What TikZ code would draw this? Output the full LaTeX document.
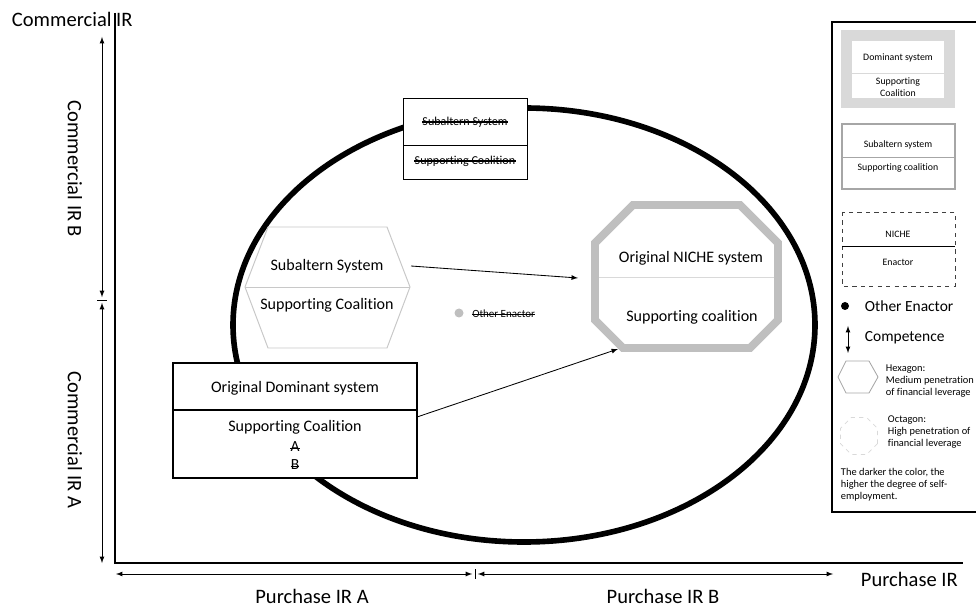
\documentclass[tikz,border=0pt]{standalone}
\usepackage{fontspec}
\setmainfont[Ligatures = NoCommon]{Carlito}
\usetikzlibrary{arrows}
\definecolor{octgray}{HTML}{BFBFBF}
\definecolor{hexgray}{HTML}{C8C8C8}
\definecolor{domgray}{HTML}{D9D9D9}
\definecolor{subgray}{HTML}{A6A6A6}
\definecolor{nichegray}{HTML}{404040}
\tikzset{>=latex}
\tikzset{
	axislabel/.style = {font = \fontsize{14.6}{17}\selectfont},
	boxtext/.style = {font = \fontsize{11.4}{13.5}\selectfont},
	legtext/.style = {font = \fontsize{7}{8.3}\selectfont, align = center},
	notetext/.style = {font = \fontsize{7.4}{8.6}\selectfont, align = left, anchor = north west},
	strucktext/.style = {font = \fontsize{7.8}{9}\selectfont, inner xsep = 0pt,
		append after command = {(\tikzlastnode.mid west) edge[line width = 1pt] (\tikzlastnode.mid east)}},
}

\begin{document}
\begin{tikzpicture}[x = 0.025cm, y = -0.025cm]
\useasboundingbox (0,0) rectangle (976,610);

% axes
\draw[line width = 1.1pt] (115,13) -- (115,563) -- (963,563);
\node[axislabel, anchor = west] (yname) at (7,19) {Commercial IR};
\node[axislabel, anchor = west] (xname) at (856,579) {Purchase IR};

\coordinate (ytop) at (102,37);
\coordinate (ymid) at (102,300);
\coordinate (ybot) at (102,563);
\coordinate (xleft) at (116,574);
\coordinate (xmid) at (475,574);
\coordinate (xright) at (833,574);
\draw[<->, line width = 0.6pt] (ytop) -- ([yshift = 2]ymid);
\draw[<->, line width = 0.6pt] ([yshift = -2]ymid) -- (ybot);
\draw[<->, line width = 0.6pt] (xleft) -- ([xshift = -2]xmid);
\draw[<->, line width = 0.6pt] ([xshift = 2]xmid) -- (xright);
\draw[line width = 0.5pt] (97,300) -- (107,300);
\draw[line width = 0.5pt] (475,569) -- (475,579);

\node[axislabel, rotate = -90] (irB) at (75,169) {Commercial IR B};
\node[axislabel, rotate = -90] (irA) at (75,440) {Commercial IR A};
\node[axislabel] (prA) at (312,596) {Purchase IR A};
\node[axislabel] (prB) at (663,596) {Purchase IR B};

% market
\draw[line width = 4pt] (524,325) ellipse [x radius = 291, y radius = 217];

% struck subaltern system
\draw[fill = white, line width = 0.6pt] (403,98) rectangle (527,179);
\draw[line width = 0.6pt] (403,145) -- (527,145);
\node[strucktext, font = \fontsize{8.6}{10}\selectfont] (oldsys) at (465,122) {Subaltern System};
\node[strucktext, font = \fontsize{8.6}{10}\selectfont] (oldcoal) at (465,161) {Supporting Coalition};

% subaltern hexagon
\draw[hexgray, fill = white, line width = 0.7pt]
	(268,227) -- (387,227) -- (410,287) -- (387,348) -- (268,348) -- (245,287) -- cycle;
\draw[hexgray, line width = 0.7pt] (245,287) -- (410,287);
\node[boxtext] (hexsys) at (327,266) {Subaltern System};
\node[boxtext] (hexcoal) at (327,305) {Supporting Coalition};
\coordinate (hexE) at (411,266);

% niche octagon
\draw[octgray, line width = 5.6pt]
	(633,205) -- (740,205) -- (778,243) -- (778,320) -- (750,348)
	-- (623,348) -- (595,320) -- (595,243) -- cycle;
\draw[domgray, line width = 0.6pt] (599,277) -- (774,277);
\node[boxtext] (octsys) at (691,258) {Original NICHE system};
\node[boxtext] (octcoal) at (692,317) {Supporting coalition};
\coordinate (octW) at (578,278);
\coordinate (octSW) at (618,349);

% other enactor
\fill[octgray] (459,313) circle [radius = 4.5];
\node[strucktext, anchor = west] (other) at (472,314) {Other Enactor};

% dominant system
\draw[fill = white, line width = 0.8pt] (173,363) rectangle (417,478);
\draw[line width = 0.8pt] (173,410) -- (417,410);
\node[boxtext] (domsys) at (295,388) {Original Dominant system};
\node[boxtext] (domcoal) at (295,427) {Supporting Coalition};
\foreach \y/\t in {447/A, 465/B}
	\node[strucktext, font = \fontsize{11}{13}\selectfont] (dom\t) at (295,\y) {\t};
\coordinate (domE) at (417,417);

\draw[->, line width = 0.6pt] (hexE) -- (octW);
\draw[->, line width = 0.6pt] (domE) -- (octSW);

% legend
\draw[line width = 1.5pt] (832,22) rectangle (1000,512);

\draw[domgray, line width = 7.5pt] (846.5,35.5) rectangle (949.5,103);
\draw[domgray, line width = 0.5pt] (852,73) -- (944,73);
\node[legtext] (legdom) at (898,58) {Dominant system};
\node[legtext] (legdomcoal) at (898,87) {Supporting\\Coalition};

\draw[subgray, line width = 1.4pt] (842,124) rectangle (955,189);
\draw[subgray, line width = 0.5pt] (842,157) -- (955,157);
\node[legtext] (legsub) at (898,145) {Subaltern system};
\node[legtext] (legsubcoal) at (898,168) {Supporting coalition};

\draw[nichegray, dashed, line width = 0.7pt] (842,212) rectangle (955,286);
\draw[line width = 0.6pt] (842,246) -- (955,246);
\node[legtext] (legniche) at (898,234) {NICHE};
\node[legtext] (legenactor) at (898,262) {Enactor};

\fill (845,306) circle [radius = 4];
\node[boxtext, anchor = west, font = \fontsize{11}{13}\selectfont] (legother) at (860,306) {Other Enactor};
\draw[<->, line width = 0.6pt] (848,326) -- (848,353);
\node[boxtext, anchor = west, font = \fontsize{11}{13}\selectfont] (legcomp) at (860,338) {Competence};

\draw[subgray, line width = 0.6pt]
	(846,361) -- (869,361) -- (878,377) -- (869,393) -- (846,393) -- (838,377) -- cycle;
\node[notetext] (leghex) at (881,360) {Hexagon:\\Medium penetration\\of financial leverage};

\draw[domgray, dashed, line width = 0.6pt] (859,436) +(22.5:20)
	\foreach \k in {1, ..., 7} { -- +(22.5 + 45 * \k:20) } -- cycle;
\node[notetext] (legoct) at (883,411) {Octagon:\\High penetration of\\financial leverage};

\node[notetext] (legnote) at (836,463) {The darker the color, the\\higher the degree of self-\\employment.};

\end{tikzpicture}
\end{document}
